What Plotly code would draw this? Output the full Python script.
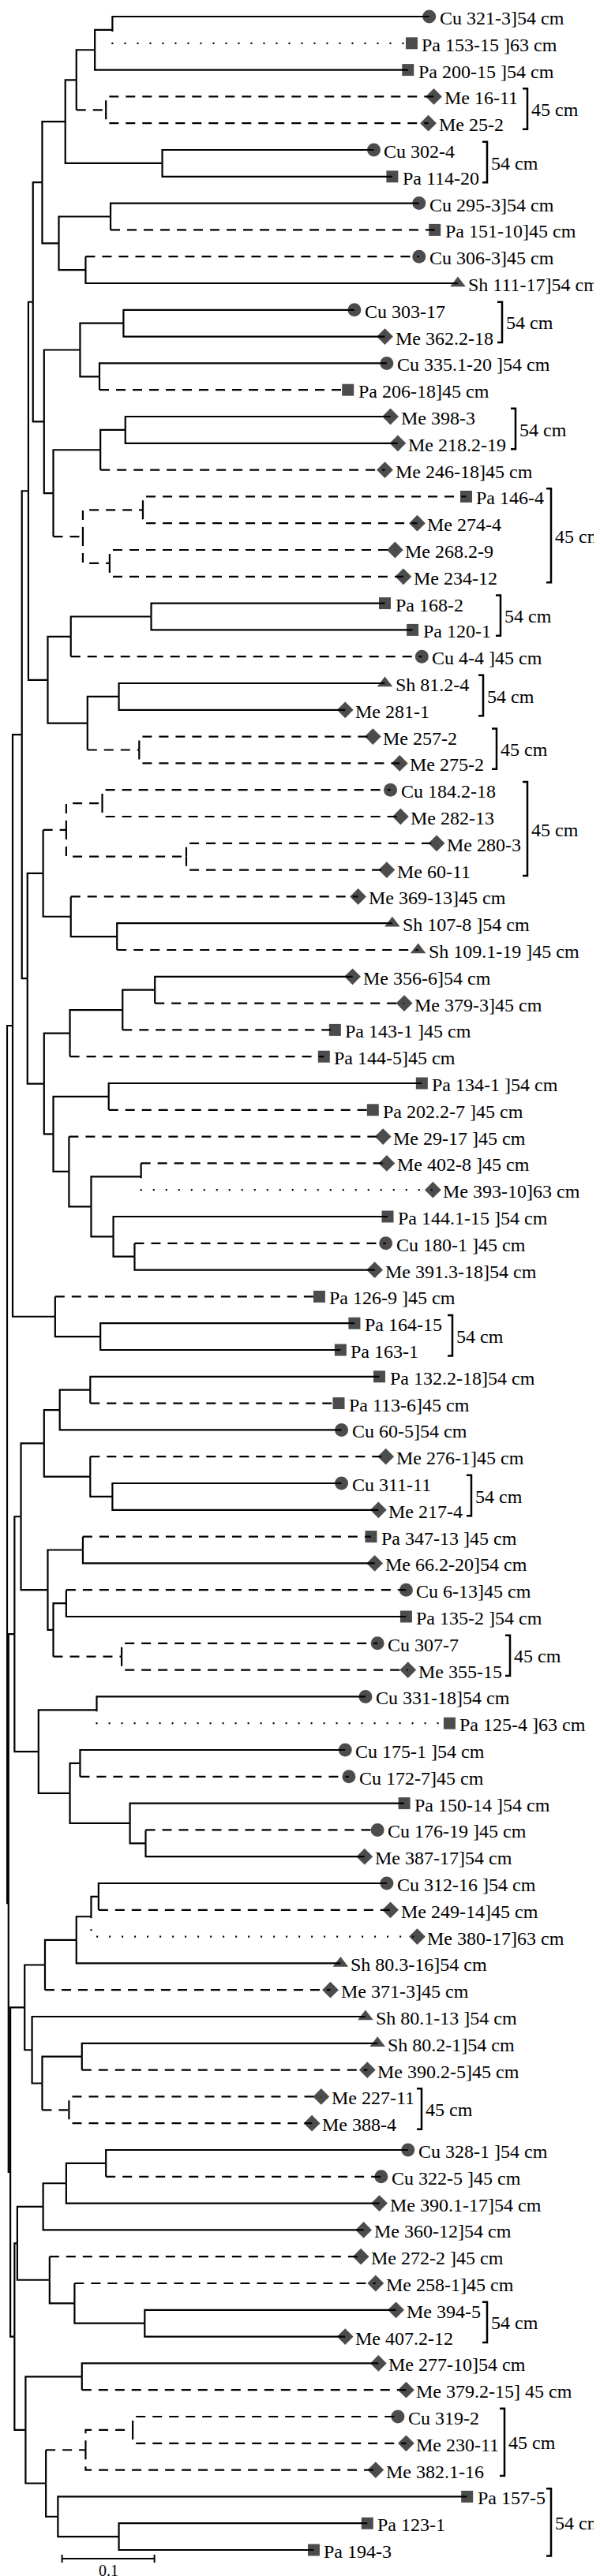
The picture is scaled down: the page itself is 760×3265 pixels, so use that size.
import plotly.graph_objects as go

# ---------------- data ----------------
leaf_names = [
    "Cu 321-3", "Pa 153-15", "Pa 200-15", "Me 16-11", "Me 25-2", "Cu 302-4", "Pa 114-20",
    "Cu 295-3", "Pa 151-10", "Cu 306-3", "Sh 111-17", "Cu 303-17", "Me 362.2-18",
    "Cu 335.1-20", "Pa 206-18", "Me 398-3", "Me 218.2-19", "Me 246-18", "Pa 146-4",
    "Me 274-4", "Me 268.2-9", "Me 234-12", "Pa 168-2", "Pa 120-1", "Cu 4-4", "Sh 81.2-4",
    "Me 281-1", "Me 257-2", "Me 275-2", "Cu 184.2-18", "Me 282-13", "Me 280-3", "Me 60-11",
    "Me 369-13", "Sh 107-8", "Sh 109.1-19", "Me 356-6", "Me 379-3", "Pa 143-1", "Pa 144-5",
    "Pa 134-1", "Pa 202.2-7", "Me 29-17", "Me 402-8", "Me 393-10", "Pa 144.1-15",
    "Cu 180-1", "Me 391.3-18", "Pa 126-9", "Pa 164-15", "Pa 163-1", "Pa 132.2-18",
    "Pa 113-6", "Cu 60-5", "Me 276-1", "Cu 311-11", "Me 217-4", "Pa 347-13", "Me 66.2-20",
    "Cu 6-13", "Pa 135-2", "Cu 307-7", "Me 355-15", "Cu 331-18", "Pa 125-4", "Cu 175-1",
    "Cu 172-7", "Pa 150-14", "Cu 176-19", "Me 387-17", "Cu 312-16", "Me 249-14",
    "Me 380-17", "Sh 80.3-16", "Me 371-3", "Sh 80.1-13", "Sh 80.2-1", "Me 390.2-5",
    "Me 227-11", "Me 388-4", "Cu 328-1", "Cu 322-5", "Me 390.1-17", "Me 360-12",
    "Me 272-2", "Me 258-1", "Me 394-5", "Me 407.2-12", "Me 277-10", "Me 379.2-15",
    "Cu 319-2", "Me 230-11", "Me 382.1-16", "Pa 157-5", "Pa 123-1", "Pa 194-3",
]
leaf_cm = [
    54, 63, 54, 45, 45, 54, 54, 54, 45, 45,
    54, 54, 54, 54, 45, 54, 54, 45, 45, 45,
    45, 45, 54, 54, 45, 54, 54, 45, 45, 45,
    45, 45, 45, 45, 54, 45, 54, 45, 45, 45,
    54, 45, 45, 45, 63, 54, 45, 54, 45, 54,
    54, 54, 45, 54, 45, 54, 54, 45, 54, 45,
    54, 45, 45, 54, 63, 54, 45, 54, 45, 54,
    54, 45, 63, 54, 45, 54, 54, 45, 45, 45,
    54, 45, 54, 54, 45, 45, 54, 54, 54, 45,
    45, 45, 45, 54, 54, 54,
]
leaf_depth = [
    0.457, 0.438, 0.434, 0.462, 0.456, 0.397, 0.417, 0.446, 0.463, 0.446,
    0.488, 0.376, 0.409, 0.411, 0.369, 0.415, 0.423, 0.409, 0.497, 0.444,
    0.420, 0.429, 0.409, 0.439, 0.449, 0.409, 0.366, 0.396, 0.425, 0.415,
    0.426, 0.465, 0.411, 0.380, 0.417, 0.445, 0.374, 0.430, 0.355, 0.343,
    0.449, 0.396, 0.407, 0.411, 0.461, 0.412, 0.410, 0.398, 0.338, 0.376,
    0.361, 0.403, 0.359, 0.362, 0.410, 0.362, 0.402, 0.394, 0.398, 0.432,
    0.432, 0.401, 0.434, 0.388, 0.479, 0.366, 0.370, 0.430, 0.401, 0.387,
    0.411, 0.415, 0.444, 0.361, 0.350, 0.388, 0.401, 0.390, 0.340, 0.330,
    0.434, 0.405, 0.403, 0.386, 0.383, 0.399, 0.421, 0.366, 0.402, 0.432,
    0.423, 0.432, 0.399, 0.498, 0.390, 0.332,
]

# internal nodes: children are leaf numbers (1-based) or node names
node_names = [
    "n1", "n2", "n3", "n4", "n5", "n6", "n7", "n8", "n9", "n10",
    "c1", "c2", "c3", "c4", "c5", "c6", "c7", "c8", "c9", "c10", "p70",
    "d1", "d2", "d3", "d4", "d5", "d6", "p58",
    "e1", "e2", "e3", "e4", "e5", "e6", "f1", "f2", "f3",
    "g1", "g2", "g3", "g4", "g5", "g6", "g7", "h", "i", "p40",
    "j1", "y", "p18",
    "k1", "k2", "k3", "k4", "k5", "l1", "l2", "l3", "l4", "l5", "k6",
    "m1", "m2", "m3", "m4", "m5", "m6", "q",
    "r1", "r2", "r3", "r4", "s1", "s2", "s3", "s4", "s5",
    "t1", "t2", "t3", "u1", "u2", "u3", "v",
    "w1", "w2", "w3", "w4", "w5", "w6", "w7", "z", "nc", "nd", "root",
]
node_children = [
    [1, 2], ["n1", 3], [4, 5], ["n2", "n3"], [6, 7], ["n4", "n5"], [8, 9], [10, 11],
    ["n7", "n8"], ["n6", "n9"],
    [12, 13], [14, 15], ["c1", "c2"], [16, 17], ["c4", 18], [19, 20], [21, 22],
    ["c6", "c7"], ["c5", "c8"], ["c3", "c9"], ["n10", "c10"],
    [23, 24], ["d1", 25], [26, 27], [28, 29], ["d3", "d4"], ["d2", "d5"], ["p70", "d6"],
    [30, 31], [32, 33], ["e1", "e2"], [35, 36], [34, "e4"], ["e3", "e5"],
    [37, 38], ["f1", 39], ["f2", 40],
    [41, 42], [44, 45], [47, 48], [46, "g3"], ["g2", "g4"], [43, "g5"], ["g1", "g6"],
    ["f3", "g7"], ["e6", "h"], ["p58", "i"],
    [50, 51], [49, "j1"], ["p40", "y"],
    [52, 53], ["k1", 54], [56, 57], [55, "k3"], ["k2", "k4"],
    [58, 59], [60, 61], [62, 63], ["l2", "l3"], ["l1", "l4"], ["k5", "l5"],
    [64, 65], [66, 67], [69, 70], [68, "m3"], ["m2", "m4"], ["m1", "m5"], ["k6", "m6"],
    [71, 72], ["r1", 73], ["r2", 74], ["r3", 75], [77, 78], [79, 80], ["s1", "s2"],
    [76, "s3"], ["r4", "s4"],
    [81, 82], ["t1", 83], ["t2", 84], [87, 88], [86, "u1"], [85, "u2"], ["t3", "u3"],
    [89, 90], [91, 92], ["w2", 93], [95, 96], [94, "w4"], ["w3", "w5"], ["w1", "w6"],
    ["v", "w7"], ["s5", "z"], ["q", "nc"], ["p18", "nd"],
]
node_depth = [
    0.114, 0.095, 0.107, 0.075, 0.168, 0.063, 0.112, 0.085, 0.056, 0.038,
    0.126, 0.100, 0.079, 0.128, 0.101, 0.147, 0.111, 0.082, 0.050, 0.040, 0.028,
    0.156, 0.069, 0.121, 0.143, 0.087, 0.044, 0.023,
    0.103, 0.194, 0.064, 0.119, 0.069, 0.039, 0.160, 0.125, 0.068,
    0.110, 0.145, 0.138, 0.115, 0.091, 0.067, 0.050, 0.040, 0.022, 0.016,
    0.101, 0.052, 0.006,
    0.090, 0.057, 0.114, 0.090, 0.040, 0.082, 0.064, 0.124, 0.050, 0.044, 0.015,
    0.097, 0.079, 0.150, 0.133, 0.068, 0.034, 0.008,
    0.099, 0.091, 0.075, 0.041, 0.081, 0.067, 0.038, 0.027, 0.019,
    0.107, 0.064, 0.039, 0.149, 0.073, 0.046, 0.011,
    0.081, 0.136, 0.085, 0.121, 0.055, 0.042, 0.020, 0.008, 0.0035, 0.0015, 0.0,
]

# multi-leaf depth groups (first leaf, last leaf, cm)
group_first = [4, 6, 12, 16, 19, 23, 26, 28, 30, 50, 56, 62, 79, 87, 91, 94]
group_last = [5, 7, 13, 17, 22, 24, 27, 29, 33, 51, 57, 63, 80, 88, 93, 96]
group_cm = [45, 54, 54, 54, 45, 54, 54, 45, 45, 54, 54, 45, 45, 54, 45, 54]

scale_value = 0.1
scale_label = "0.1"

# ---------------- layout constants ----------------
PX = 1170.0          # pixels per tree unit
W, H = 760, 3265
ROW0, ROW = 13.0, 33.8
bracket_px = [660, 609, 628, 645, 690, 626, 604, 621, 660, 565, 589, 638, 526, 609, 631, 690]
spaced_before = {2, 3, 14, 25, 35, 36, 39, 41, 42, 43, 44, 46, 47, 49, 58, 61, 65, 66,
                 68, 69, 71, 76, 81, 82, 85}
spaced_after = {90}
scale_start = 0.0595
FONT = "Liberation Serif, Times New Roman, Tinos, serif"
FS = 24

# ---------------- tree geometry ----------------
kids = dict(zip(node_names, node_children))
ndep = dict(zip(node_names, node_depth))
pos = {}
for i, d in enumerate(leaf_depth):
    pos[i + 1] = (d, float(i))


def get(key):
    if key in pos:
        return pos[key]
    ys = [get(k)[1] for k in kids[key]]
    pos[key] = (ndep[key], (ys[0] + ys[-1]) / 2.0)
    return pos[key]


def leaves(key):
    if isinstance(key, int):
        return [key]
    out = []
    for k in kids[key]:
        out += leaves(k)
    return out


cm_style = {45: "dash", 54: "solid", 63: "dot"}


def style(key):
    if isinstance(key, int):
        return cm_style[leaf_cm[key - 1]]
    return "dash" if all(leaf_cm[l - 1] == 45 for l in leaves(key)) else "solid"


segs = {"solid": ([], []), "dash": ([], []), "dot": ([], [])}


def add(st, xs, ys):
    segs[st][0].extend(list(xs) + [None])
    segs[st][1].extend(list(ys) + [None])


for name in node_names:
    px, py = get(name)
    pst = style(name)
    for k in kids[name]:
        cx, cy = get(k)
        cst = style(k)
        vst = "dash" if pst == "dash" else ("dot" if cst == "dot" else "solid")
        if vst == cst:
            add(cst, [px, px, cx], [py, cy, cy])
        else:
            add(vst, [px, px], [py, cy])
            add(cst, [px, cx], [cy, cy])

dash_pattern = {"solid": "solid", "dash": "12px,9px", "dot": "2px,14px"}

fig = go.Figure()
for st in ["solid", "dash", "dot"]:
    fig.add_trace(go.Scatter(
        x=segs[st][0], y=segs[st][1], mode="lines",
        line=dict(color="black", width=2.2, dash=dash_pattern[st]),
        hoverinfo="skip", showlegend=False))

# markers
sym_map = {"Cu": "circle", "Pa": "square", "Me": "diamond", "Sh": "triangle-up"}
size_map = {"Cu": 17, "Pa": 15, "Me": 16, "Sh": 17}
prefixes = [n.split()[0] for n in leaf_names]
fig.add_trace(go.Scatter(
    x=leaf_depth, y=list(range(len(leaf_names))), mode="markers",
    marker=dict(symbol=[sym_map[p] for p in prefixes],
                size=[size_map[p] for p in prefixes],
                color="black", line=dict(width=0)),
    hoverinfo="skip", showlegend=False))

# labels
grouped = set()
for a, b in zip(group_first, group_last):
    grouped.update(range(a, b + 1))

annotations = []
for i, name in enumerate(leaf_names):
    n = i + 1
    if n in grouped:
        txt = name
    else:
        txt = name + (" " if n in spaced_before else "") + "]" + \
              (" " if n in spaced_after else "") + f"{leaf_cm[i]} cm"
    annotations.append(dict(
        x=leaf_depth[i], y=i, text=txt, showarrow=False, xanchor="left", yanchor="middle",
        xshift=12, yshift=-2, borderpad=0, font=dict(family=FONT, size=FS, color="black")))

# group brackets
bx, by = [], []
tick = 6.0 / PX
for a, b, c, xp in zip(group_first, group_last, group_cm, bracket_px):
    xb = (xp - 1) / PX
    y0, y1 = a - 1 - 0.3, b - 1 + 0.22
    bx += [xb - tick, xb, xb, xb - tick, None]
    by += [y0, y0, y1, y1, None]
    annotations.append(dict(
        x=xb, y=(y0 + y1) / 2, text=f"{c} cm", showarrow=False, xanchor="left",
        yanchor="middle", xshift=4, yshift=-1, borderpad=0,
        font=dict(family=FONT, size=FS, color="black")))
fig.add_trace(go.Scatter(x=bx, y=by, mode="lines", line=dict(color="black", width=2.5),
                         hoverinfo="skip", showlegend=False))

# scale bar
ysb = (3235 - ROW0) / ROW
th = 5 / ROW
x0s, x1s = scale_start, scale_start + scale_value
fig.add_trace(go.Scatter(
    x=[x0s, x0s, None, x0s, x1s, None, x1s, x1s],
    y=[ysb - th, ysb + th, None, ysb, ysb, None, ysb - th, ysb + th],
    mode="lines", line=dict(color="black", width=2), hoverinfo="skip", showlegend=False))
annotations.append(dict(x=(x0s + x1s) / 2, y=(3250 - ROW0) / ROW, text=scale_label,
                        showarrow=False, xanchor="center", yanchor="middle", borderpad=0,
                        font=dict(family=FONT, size=20, color="black")))

fig.update_layout(
    width=W, height=H, margin=dict(l=0, r=0, t=0, b=0),
    paper_bgcolor="white", plot_bgcolor="white", showlegend=False,
    xaxis=dict(visible=False, range=[-1 / PX, (W - 1) / PX], fixedrange=True),
    yaxis=dict(visible=False, range=[(H - ROW0) / ROW, -ROW0 / ROW], fixedrange=True),
    annotations=annotations,
)
fig.write_html("out.html")
